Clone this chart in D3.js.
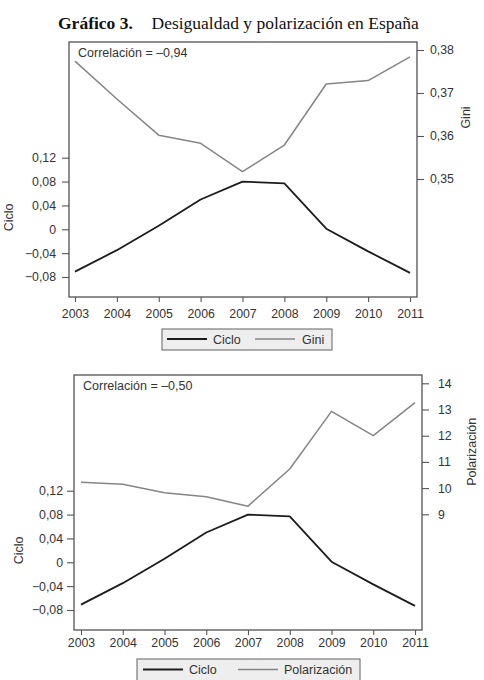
<!DOCTYPE html>
<html>
<head>
<meta charset="utf-8">
<script src="https://cdn.jsdelivr.net/npm/d3@7"></script>
<style>
  html, body { margin: 0; padding: 0; background: #fff; }
  svg { display: block; }
  text { font-family: "Liberation Sans", Arial, sans-serif; }
</style>
</head>
<body>
<svg id="chart" width="484" height="680"></svg>
<script>
// ---- Data ----
const years = [2003, 2004, 2005, 2006, 2007, 2008, 2009, 2010, 2011];
const ciclo = [-0.071, -0.035, 0.006, 0.050, 0.080, 0.077, 0.001, -0.037, -0.073];
const gini = [0.3774, 0.3686, 0.3602, 0.3583, 0.3517, 0.3579, 0.3721, 0.3729, 0.3784];
const polarizacion = [10.22, 10.15, 9.82, 9.67, 9.31, 10.73, 12.93, 12.00, 13.26];
const cicloTicks = [-0.08, -0.04, 0, 0.04, 0.08, 0.12];
const giniTicks = [0.35, 0.36, 0.37, 0.38];
const polTicks = [9, 10, 11, 12, 13, 14];
const titleBold = "Gráfico 3.";
const titleRest = "Desigualdad y polarización en España";
const corrTop = "Correlación = –0,94";
const corrBottom = "Correlación = –0,50";

const locale = d3.formatLocale({decimal: ",", thousands: ".", grouping: [3], currency: ["", "€"], minus: "\u2212"});
const fmt2 = v => v === 0 ? "0" : locale.format(".2f")(v);
const fmtInt = locale.format("d");

const svg = d3.select("#chart");

// Title
const title = svg.append("text").attr("x", 58).attr("y", 29)
  .style("font-family", "'Liberation Serif', 'Times New Roman', serif")
  .style("font-size", "17.5px").attr("fill", "#111");
title.append("tspan").style("font-weight", "bold").text(titleBold);
title.append("tspan").attr("x", 151.5).text(titleRest);

const CICLO_COLOR = "#1c1c1c";
const SEC_COLOR = "#858585";

function panel(cfg) {
  const g = svg.append("g");
  const x = d3.scaleLinear().domain([2003, 2011]).range(cfg.xr);
  const yl = d3.scaleLinear().domain([-0.08, 0.12]).range(cfg.ylr);
  const yr = d3.scaleLinear().domain(cfg.rDomain).range(cfg.yrr);

  // plot box
  g.append("rect").attr("x", cfg.box[0]).attr("y", cfg.box[1])
    .attr("width", cfg.box[2] - cfg.box[0]).attr("height", cfg.box[3] - cfg.box[1])
    .attr("fill", "none").attr("stroke", "#444").attr("stroke-width", 1.2);

  // left axis
  const la = g.append("g").attr("transform", `translate(${cfg.box[0]},0)`)
    .call(d3.axisLeft(yl).tickValues(cicloTicks).tickFormat(fmt2).tickSize(7).tickPadding(cfg.lpad).tickSizeOuter(0));
  // right axis
  const ra = g.append("g").attr("transform", `translate(${cfg.box[2]},0)`)
    .call(d3.axisRight(yr).tickValues(cfg.rTicks).tickFormat(cfg.rFmt).tickSize(7).tickPadding(cfg.rpad).tickSizeOuter(0));
  // bottom axis
  const ba = g.append("g").attr("transform", `translate(0,${cfg.box[3]})`)
    .call(d3.axisBottom(x).tickValues(years).tickFormat(d3.format("d")).tickSize(5).tickPadding(cfg.bpad).tickSizeOuter(0));

  [la, ra, ba].forEach(a => {
    a.select(".domain").remove();
    a.selectAll(".tick line").attr("stroke", "#555").attr("stroke-width", 1.1);
    a.selectAll(".tick text").attr("fill", "#333").style("font-size", "12.3px")
      .style("font-family", "'Liberation Sans', Arial, sans-serif");
  });

  // axis titles
  g.append("text").attr("transform", `translate(${cfg.lTitleX},${(yl(-0.08) + yl(0.12)) / 2}) rotate(-90)`)
    .attr("text-anchor", "middle").attr("fill", "#333").style("font-size", "12.5px").text("Ciclo");
  g.append("text").attr("transform", `translate(${cfg.rTitleX},${(yr(cfg.rDomain[0]) + yr(cfg.rDomain[1])) / 2 + cfg.rTitleDy}) rotate(-90)`)
    .attr("text-anchor", "middle").attr("fill", "#333").style("font-size", "12.5px").text(cfg.rName);

  // lines
  const idx = d3.range(years.length);
  g.append("path").datum(idx).attr("fill", "none").attr("stroke", SEC_COLOR).attr("stroke-width", 1.5)
    .attr("stroke-linejoin", "round")
    .attr("d", d3.line().x(i => x(years[i])).y(i => yr(cfg.rData[i])));
  g.append("path").datum(idx).attr("fill", "none").attr("stroke", CICLO_COLOR).attr("stroke-width", 1.8)
    .attr("stroke-linejoin", "round")
    .attr("d", d3.line().x(i => x(years[i])).y(i => yl(ciclo[i])));

  // correlation text
  g.append("text").attr("x", cfg.corr[0]).attr("y", cfg.corr[1]).attr("fill", "#333")
    .style("font-size", "12.5px").text(cfg.corrText);

  // legend
  const L = cfg.legend;
  g.append("rect").attr("x", L.x0).attr("y", L.y0).attr("width", L.x1 - L.x0).attr("height", L.y1 - L.y0)
    .attr("fill", "#eeeeee").attr("stroke", "#7a7a7a").attr("stroke-width", 1.2);
  g.append("line").attr("x1", L.l1[0]).attr("x2", L.l1[1]).attr("y1", L.ly).attr("y2", L.ly)
    .attr("stroke", CICLO_COLOR).attr("stroke-width", 1.8);
  g.append("text").attr("x", L.t1).attr("y", L.ty).attr("fill", "#333").style("font-size", "12.5px").text("Ciclo");
  g.append("line").attr("x1", L.l2[0]).attr("x2", L.l2[1]).attr("y1", L.ly).attr("y2", L.ly)
    .attr("stroke", SEC_COLOR).attr("stroke-width", 1.5);
  g.append("text").attr("x", L.t2).attr("y", L.ty).attr("fill", "#333").style("font-size", "12.5px").text(cfg.rName);
}

panel({
  xr: [75, 410], ylr: [277, 157.7], yrr: [179, 50],
  rDomain: [0.35, 0.38], rTicks: giniTicks, rFmt: fmt2, rData: gini, rName: "Gini",
  box: [69, 42, 417, 297],
  lpad: 6, rpad: 6, bpad: 7,
  lTitleX: 13, rTitleX: 470, rTitleDy: 3,
  corr: [78, 57], corrText: corrTop,
  legend: {x0: 162, y0: 329, x1: 332, y1: 350, ly: 339, l1: [167, 207], l2: [255, 295], t1: 213, t2: 302, ty: 343.5}
});

panel({
  xr: [81, 415], ylr: [610, 490.7], yrr: [514.3, 383.3],
  rDomain: [9, 14], rTicks: polTicks, rFmt: fmtInt, rData: polarizacion, rName: "Polarización",
  box: [74, 375, 422, 630],
  lpad: 4, rpad: 9, bpad: 3.5,
  lTitleX: 22.5, rTitleX: 476, rTitleDy: 3,
  corr: [83, 389.5], corrText: corrBottom,
  legend: {x0: 137, y0: 659, x1: 360, y1: 682, ly: 669.5, l1: [143, 183], l2: [238, 278], t1: 189, t2: 284, ty: 674}
});
</script>
</body>
</html>
